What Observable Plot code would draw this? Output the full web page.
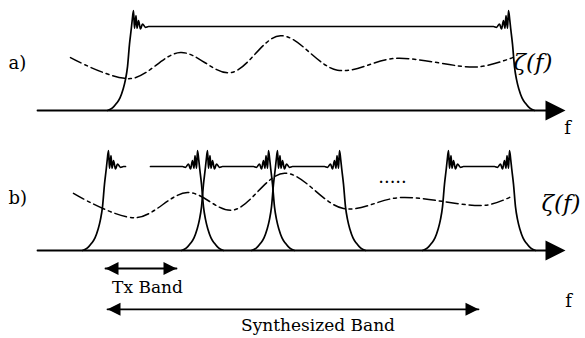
<!DOCTYPE html>
<html><head><meta charset="utf-8">
<script src="https://cdn.jsdelivr.net/npm/d3@7"></script>
<script src="https://cdn.jsdelivr.net/npm/@observablehq/plot@0.6"></script>
<style>
body{margin:0;background:#fff}
#chart svg{display:block;overflow:visible}
</style>
</head><body><div id="chart"></div><script>
// ---- data (frequency in arbitrary units, amplitude normalised to flat top = 1) ----
const axisStart = 0, axisShaftEnd = 102, axisTip = 105.6;
// filter edge template: offset from the band-edge peak, amplitude
const edgeDx  = [-5.2, -4.2, -3.4, -2.7, -2.1, -1.6, -1.2, -0.8, -0.45, -0.25, 0, 0.2, 0.5, 0.7, 1.0, 1.4, 1.8, 2.4, 3.0];
const edgeAmp = [0, 0.03, 0.085, 0.15, 0.25, 0.37, 0.52, 0.79, 0.97, 1.08, 1.19, 0.98, 1.13, 0.98, 1.07, 0.97, 1.03, 0.99, 1.0];
// panel a: one wide filter
const filtersA_left  = [19.2];
const filtersA_right = [94.2];
// panel b: sub-band filters
const filtersB_left  = [14.2, 34.0, 48.0, 82.2];
const filtersB_right = [32.0, 46.2, 60.4, 94.4];
const filterB_gap = [17.6, 22.6];      // break in the first filter's top
// zeta(f) dash-dot curves
const zetaA_f   = [6.6, 18.6, 28.6, 38.6, 48.6, 60.0, 71.6, 88.2, 95.0];
const zetaA_amp = [0.63, 0.38, 0.69, 0.45, 0.89, 0.48, 0.62, 0.52, 0.63];
const zetaB_f   = [7.2, 19.6, 30.0, 39.0, 49.4, 61.2, 72.6, 89.8, 95.0];
const zetaB_amp = [0.68, 0.39, 0.69, 0.48, 0.92, 0.50, 0.63, 0.54, 0.65];
// band arrows
const txBand    = {from: 13.6, to: 27.8, level: -0.214, label: "Tx Band", labelF: 22.0, labelAmp: -0.436};
const synthBand = {from: 14.0, to: 88.2, level: -0.70, label: "Synthesized Band", labelF: 56.1, labelAmp: -0.888};
// labels
const labelsA = [
  {f: -5.8, a: 0.56, text: "a)", anchor: "start", style: "normal"},
  {f: 106.0, a: -0.21, text: "f", anchor: "middle", style: "normal"},
  {f: 95.2, a: 0.57, text: "ζ(f)", anchor: "start", style: "italic"}
];
const labelsB = [
  {f: -5.8, a: 0.62, text: "b)", anchor: "start", style: "normal"},
  {f: 106.2, a: -0.60, text: "f", anchor: "middle", style: "normal"},
  {f: 100.8, a: 0.56, text: "ζ(f)", anchor: "start", style: "italic"},
  {f: 71.0, a: 0.87, text: ".....", anchor: "middle", style: "normal"}
];

// ---- helpers ----
const font = "DejaVu Serif";
function buildFilters(lefts, rights, gap) {
  const pts = [];
  lefts.forEach((L, i) => {
    const R = rights[i];
    edgeDx.forEach((d, k) => pts.push({f: L + d, a: edgeAmp[k], id: i}));
    if (i === 0 && gap) {
      pts.push({f: gap[0], a: 1, id: i});
      pts.push({f: (gap[0] + gap[1]) / 2, a: NaN, id: i});
      pts.push({f: gap[1], a: 1, id: i});
    }
    for (let k = edgeDx.length - 1; k >= 0; k--) pts.push({f: R - edgeDx[k], a: edgeAmp[k], id: i});
  });
  return pts;
}
const arrowRight = {draw(ctx, size) { const r = Math.sqrt(size / Math.PI); ctx.moveTo(0, 0); ctx.lineTo(-2 * r, -r); ctx.lineTo(-2 * r, r); ctx.closePath(); }};
const arrowLeft  = {draw(ctx, size) { const r = Math.sqrt(size / Math.PI); ctx.moveTo(0, 0); ctx.lineTo(2 * r, -r); ctx.lineTo(2 * r, r); ctx.closePath(); }};

function axisMarks() {
  return [
    Plot.line([{f: axisStart, a: 0}, {f: axisShaftEnd, a: 0}], {x: "f", y: "a", stroke: "black", strokeWidth: 1.8}),
    Plot.dot([{f: axisTip, a: 0}], {x: "f", y: "a", symbol: arrowRight, r: 10, fill: "black", stroke: "none"})
  ];
}
function labelMarks(labels) {
  const marks = [];
  for (const st of ["normal", "italic"]) for (const an of ["start", "middle"]) {
    const sub = labels.filter(d => d.style === st && d.anchor === an);
    if (sub.length) marks.push(Plot.text(sub, {
      x: "f", y: "a", text: "text", textAnchor: an, fontSize: st === "italic" ? 23 : 18,
      fontFamily: font, fontStyle: st, fill: "black"
    }));
  }
  return marks;
}
function bandMarks(b) {
  return [
    Plot.line([{f: b.from, a: b.level}, {f: b.to, a: b.level}], {x: "f", y: "a", stroke: "black", strokeWidth: 1.8}),
    Plot.dot([{f: b.from, a: b.level}], {x: "f", y: "a", symbol: arrowLeft, r: 6.5, fill: "black", stroke: "none"}),
    Plot.dot([{f: b.to, a: b.level}], {x: "f", y: "a", symbol: arrowRight, r: 6.5, fill: "black", stroke: "none"}),
    Plot.text([b], {x: "labelF", y: "labelAmp", text: "label", fontSize: 17, fontFamily: font, fill: "black"})
  ];
}
const common = {width: 585, marginLeft: 37, marginRight: 20, marginTop: 26,
  x: {domain: [axisStart, axisTip], axis: null}, y: {domain: [0, 1], axis: null}};

const zetaA = zetaA_f.map((f, i) => ({f, a: zetaA_amp[i]}));
const zetaB = zetaB_f.map((f, i) => ({f, a: zetaB_amp[i]}));
const dash = "12,4,3,4";

const plotA = Plot.plot({...common, height: 140, marginBottom: 30, marks: [
  ...axisMarks(),
  Plot.line(buildFilters(filtersA_left, filtersA_right, null), {x: "f", y: "a", z: "id", curve: "monotone-x", stroke: "black", strokeWidth: 1.7}),
  Plot.line(zetaA, {x: "f", y: "a", curve: "catmull-rom", stroke: "black", strokeWidth: 1.5, strokeDasharray: dash}),
  ...labelMarks(labelsA)
]});
const plotB = Plot.plot({...common, height: 198, marginBottom: 88, marks: [
  ...axisMarks(),
  Plot.line(buildFilters(filtersB_left, filtersB_right, filterB_gap), {x: "f", y: "a", z: "id", curve: "monotone-x", stroke: "black", strokeWidth: 1.7}),
  Plot.line(zetaB, {x: "f", y: "a", curve: "catmull-rom", stroke: "black", strokeWidth: 1.5, strokeDasharray: dash}),
  ...labelMarks(labelsB),
  ...bandMarks(txBand),
  ...bandMarks(synthBand)
]});
document.getElementById("chart").append(plotA, plotB);
</script></body></html>
